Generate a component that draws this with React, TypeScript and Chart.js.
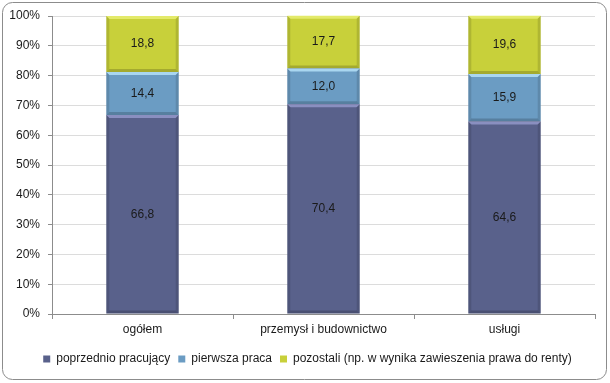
import React, { useEffect, useRef } from "react";
import { Chart, registerables } from "chart.js";

Chart.register(...registerables);

const categories = ["ogółem", "przemysł i budownictwo", "usługi"];
const seriesNames = [
  "poprzednio pracujący",
  "pierwsza praca",
  "pozostali (np. w wynika zawieszenia prawa do renty)",
];
const poprzednio = [66.8, 70.4, 64.6];
const pierwsza = [14.4, 12.0, 15.9];
const pozostali = [18.8, 17.7, 19.6];
const colors = ["#59618b", "#6b9cc3", "#c8d03a"];
const topColors = ["#8a8fc0", "#a9d6f0", "#e3ea6a"];

const FONT = "'Liberation Sans', Arial, sans-serif";

const bevelPlugin = {
  id: "bevel",
  afterDatasetsDraw(chart: any) {
    const ctx = chart.ctx;
    chart.data.datasets.forEach((ds: any, di: number) => {
      const meta = chart.getDatasetMeta(di);
      meta.data.forEach((bar: any) => {
        const { x, y, base, width } = bar.getProps(["x", "y", "base", "width"], true);
        const l = x - width / 2;
        const r = x + width / 2;
        const t = Math.min(y, base);
        const b = Math.max(y, base);
        const e = 3;
        ctx.save();
        ctx.fillStyle = topColors[di];
        ctx.beginPath();
        ctx.moveTo(l, t);
        ctx.lineTo(r, t);
        ctx.lineTo(r - e, t + e);
        ctx.lineTo(l + e, t + e);
        ctx.closePath();
        ctx.fill();
        ctx.fillStyle = "rgba(0,0,0,0.12)";
        ctx.beginPath();
        ctx.moveTo(l, t);
        ctx.lineTo(l + e, t + e);
        ctx.lineTo(l + e, b - e);
        ctx.lineTo(l, b);
        ctx.closePath();
        ctx.fill();
        ctx.beginPath();
        ctx.moveTo(r, t);
        ctx.lineTo(r - e, t + e);
        ctx.lineTo(r - e, b - e);
        ctx.lineTo(r, b);
        ctx.closePath();
        ctx.fill();
        ctx.fillStyle = "rgba(0,0,0,0.18)";
        ctx.beginPath();
        ctx.moveTo(l, b);
        ctx.lineTo(r, b);
        ctx.lineTo(r - e, b - e);
        ctx.lineTo(l + e, b - e);
        ctx.closePath();
        ctx.fill();
        ctx.restore();
      });
    });
  },
};

const labelPlugin = {
  id: "valueLabels",
  afterDatasetsDraw(chart: any) {
    const ctx = chart.ctx;
    ctx.save();
    ctx.font = "12px " + FONT;
    ctx.fillStyle = "#1a1a1a";
    ctx.textAlign = "center";
    ctx.textBaseline = "middle";
    chart.data.datasets.forEach((ds: any, di: number) => {
      const meta = chart.getDatasetMeta(di);
      meta.data.forEach((bar: any, i: number) => {
        const p = bar.getCenterPoint();
        const v = ds.data[i] as number;
        ctx.fillText(v.toFixed(1).replace(".", ","), p.x, p.y);
      });
    });
    ctx.restore();
  },
};

const legendShiftPlugin = {
  id: "legendShift",
  afterUpdate(chart: any) {
    const lg = chart.legend;
    if (lg) {
      lg.left += 10;
      lg.right += 10;
      if (lg.adjustHitBoxes) lg.adjustHitBoxes();
    }
  },
};

const framePlugin = {
  id: "frame",
  beforeDraw(chart: any) {
    const ctx = chart.ctx;
    ctx.save();
    ctx.fillStyle = "#ffffff";
    ctx.fillRect(0, 0, chart.width, chart.height);
    ctx.strokeStyle = "#8c8c8c";
    ctx.lineWidth = 1;
    const x = 2.5, y = 2.5, w = 604, h = 377, r = 10;
    ctx.beginPath();
    ctx.moveTo(x + r, y);
    ctx.lineTo(x + w - r, y);
    ctx.arcTo(x + w, y, x + w, y + r, r);
    ctx.lineTo(x + w, y + h - r);
    ctx.arcTo(x + w, y + h, x + w - r, y + h, r);
    ctx.lineTo(x + r, y + h);
    ctx.arcTo(x, y + h, x, y + h - r, r);
    ctx.lineTo(x, y + r);
    ctx.arcTo(x, y, x + r, y, r);
    ctx.closePath();
    ctx.stroke();
    ctx.restore();
  },
};

export default function App() {
  const ref = useRef<HTMLCanvasElement>(null);
  useEffect(() => {
    document.body.style.margin = "0";
    const values = [poprzednio, pierwsza, pozostali];
    const chart = new Chart(ref.current as HTMLCanvasElement, {
      type: "bar",
      data: {
        labels: categories,
        datasets: values.map((d, i) => ({
          label: seriesNames[i],
          data: d,
          backgroundColor: colors[i],
          borderWidth: 0,
          barPercentage: 0.4,
          categoryPercentage: 1,
        })),
      },
      options: {
        animation: false,
        responsive: false,
        devicePixelRatio: 1,
        layout: { padding: { left: 0, right: 15, top: 16, bottom: 8 } },
        plugins: {
          tooltip: { enabled: false },
          legend: {
            position: "bottom",
            labels: {
              boxWidth: 7,
              boxHeight: 7,
              padding: 8,
              color: "#1a1a1a",
              font: { family: FONT, size: 12 },
            },
          },
        },
        scales: {
          x: {
            stacked: true,
            grid: {
              drawOnChartArea: false,
              tickLength: 5,
              color: "#8c8c8c",
              offset: true,
            },
            border: { color: "#8c8c8c" },
            ticks: {
              color: "#1a1a1a",
              padding: 3,
              font: { family: FONT, size: 12 },
              maxRotation: 0,
            },
            afterFit(scale: any) {
              scale.height = 31;
            },
          },
          y: {
            stacked: true,
            min: 0,
            max: 100,
            ticks: {
              stepSize: 10,
              padding: 8,
              color: "#1a1a1a",
              font: { family: FONT, size: 12 },
              callback: (v: any) => v + "%",
            },
            grid: {
              color: "#dcdcdc",
              tickLength: 4,
              tickColor: "#8c8c8c",
            },
            border: { color: "#8c8c8c" },
            afterFit(scale: any) {
              scale.width = 52;
            },
          },
        },
      },
      plugins: [framePlugin, legendShiftPlugin, bevelPlugin, labelPlugin],
    } as any);
    return () => chart.destroy();
  }, []);
  return (
    <div style={{ position: "relative", width: 610, height: 383 }}>
      <canvas ref={ref} width={610} height={383} />
    </div>
  );
}
